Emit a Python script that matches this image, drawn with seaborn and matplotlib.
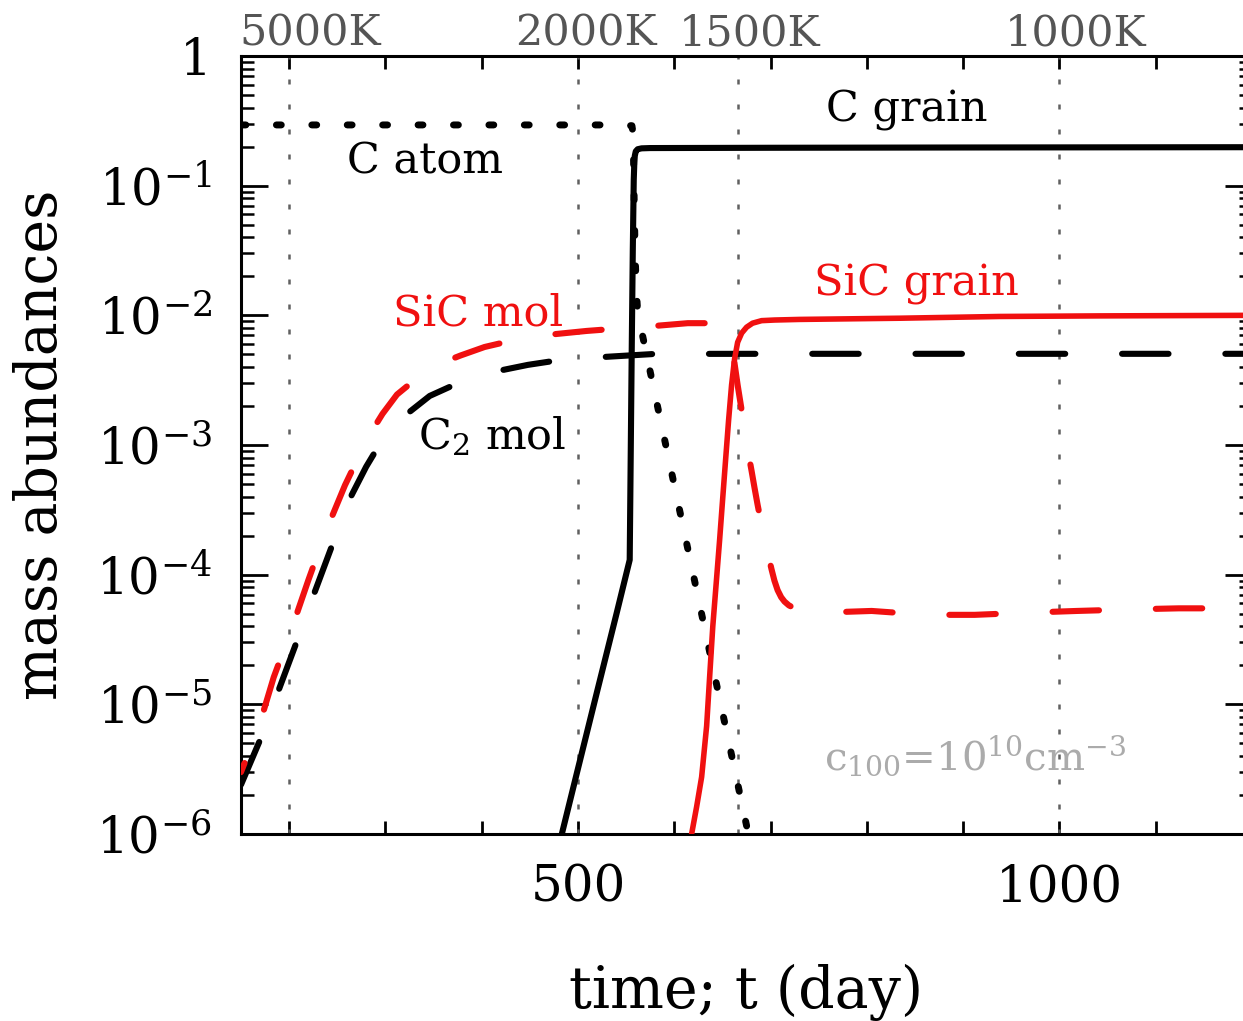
import numpy as np
import pandas as pd
import matplotlib
matplotlib.use("Agg")
import matplotlib.pyplot as plt
import matplotlib.transforms as mtransforms
from matplotlib.ticker import LogLocator, NullFormatter, NullLocator
import seaborn as sns

# ---------------------------------------------------------------------------
# Mass abundances versus time after explosion (days)
# ---------------------------------------------------------------------------
c_atom_t = [150, 300, 450, 540, 556, 557.3, 558.3, 559.3, 560.5, 562, 580, 600,
            620, 640, 660, 680, 700]
c_atom_y = [0.294, 0.294, 0.294, 0.294, 0.290, 0.25, 0.08, 0.03, 0.016, 0.0105,
            2.45e-3, 4.9e-4, 9.8e-5, 1.95e-5, 3.9e-6, 7.8e-7, 1.6e-7]

c_grain_t = [480, 483.2, 500, 520, 540, 553.7, 554.8, 555.8, 556.9, 557.9, 558.5,
             559.0, 560, 562, 566, 575, 700, 900, 1200]
c_grain_y = [8.1e-7, 1.0e-6, 3.2e-6, 1.27e-5, 5.0e-5, 1.3e-4, 9.1e-4, 5.4e-3,
             0.0316, 0.111, 0.150, 0.170, 0.184, 0.191, 0.194, 0.195, 0.196,
             0.197, 0.198]

c2_mol_t = [150, 172, 190, 209, 227, 246, 265, 280, 291, 308, 325, 346, 371,
            396, 422, 448, 475, 528, 580, 700, 1200]
c2_mol_y = [2.4e-6, 5.8e-6, 1.34e-5, 3.2e-5, 7.5e-5, 1.79e-4, 4.12e-4, 6.8e-4,
            9.3e-4, 1.35e-3, 1.80e-3, 2.39e-3, 2.90e-3, 3.41e-3, 3.79e-3,
            4.15e-3, 4.45e-3, 4.78e-3, 5.04e-3, 5.05e-3, 5.05e-3]

sic_mol_t = [150, 169, 184, 203, 220, 239, 258, 282, 297, 312, 333, 355, 378,
             403, 430, 457, 509, 536, 564, 614, 637, 644, 650, 654, 657,
             659.5, 662.5, 665.8, 669.5, 673, 676.5, 680.3, 683.5, 686.5,
             690, 693.8, 697.5, 701, 704, 707.3, 711, 714.5, 719, 724.9,
             732, 740.5, 754, 805, 862, 912, 969, 1018, 1075, 1124, 1181, 1200]
sic_mol_y = [3.0e-6, 6.9e-6, 1.62e-5, 3.9e-5, 9.1e-5, 2.24e-4, 4.9e-4, 1.15e-3,
             1.74e-3, 2.45e-3, 3.29e-3, 4.2e-3, 4.9e-3, 5.7e-3, 6.35e-3, 6.93e-3,
             7.58e-3, 7.85e-3, 8.1e-3, 8.7e-3, 8.7e-3, 8.55e-3, 8.2e-3, 7.5e-3,
             6.7e-3, 5.9e-3, 4.3e-3, 2.9e-3, 1.95e-3, 1.32e-3, 9.0e-4, 6.3e-4,
             4.6e-4, 3.47e-4, 2.55e-4, 1.86e-4, 1.42e-4, 1.10e-4, 9.0e-5, 7.6e-5,
             6.7e-5, 6.2e-5, 5.8e-5, 5.5e-5, 5.25e-5, 5.1e-5, 5.1e-5, 5.25e-5,
             4.9e-5, 4.9e-5, 5.1e-5, 5.25e-5, 5.4e-5, 5.5e-5, 5.5e-5, 5.6e-5]

sic_grain_t = [615, 618, 623.2, 628.4, 633.6, 636.7, 640, 644, 647.1, 650.2,
               653.3, 656.4, 659.5, 662.6, 665.8, 670, 675.1, 681.3, 690.7,
               704.1, 730, 834, 937.6, 1041, 1200]
sic_grain_y = [7.1e-7, 1.0e-6, 1.62e-6, 2.75e-6, 6.8e-6, 1.62e-5, 4.0e-5, 9.5e-5,
               1.86e-4, 3.8e-4, 7.7e-4, 1.55e-3, 2.9e-3, 4.6e-3, 6.2e-3, 7.3e-3,
               8.1e-3, 8.7e-3, 9.1e-3, 9.2e-3, 9.3e-3, 9.5e-3, 9.8e-3, 9.9e-3,
               1.0e-2]

# Gas temperature marks; T falls as 1/t (2000 K at 500 days)
temps_K = [5000, 2000, 1500, 1000]
temp_labels = [f"{T}K" for T in temps_K]

x_ticks = list(range(200, 1201, 100))
x_tick_labels = ["500" if v == 500 else "1000" if v == 1000 else "" for v in x_ticks]
y_ticks = [1e0, 1e-1, 1e-2, 1e-3, 1e-4, 1e-5, 1e-6]
y_tick_labels = ["1", r"$10^{-1}$", r"$10^{-2}$", r"$10^{-3}$",
                 r"$10^{-4}$", r"$10^{-5}$", r"$10^{-6}$"]


def t_of_T(T):
    return 1.0e6 / T


# ---------------------------------------------------------------------------
sns.set_style("white")
plt.rcParams["font.family"] = ["DejaVu Serif"]
plt.rcParams["mathtext.fontset"] = "dejavuserif"
for key in ("text.color", "axes.labelcolor", "xtick.color", "ytick.color"):
    plt.rcParams[key] = "black"

W, H = 1243, 1021
fig = plt.figure(figsize=(W / 100, H / 100), dpi=100)
ax = fig.add_axes([241 / W, 187 / H, 1011 / W, 778 / H])
ax.set_yscale("log")
ax.set_xlim(150, 1200)
ax.set_ylim(1e-6, 1)

RED = "#f01010"
dots = (0, (0.7, 4.4))


def draw(t, y, **kw):
    df = pd.DataFrame({"t": t, "y": y})
    sns.lineplot(data=df, x="t", y="y", ax=ax, estimator=None, sort=False,
                 legend=False, **kw)


# temperature reference lines
for T in temps_K:
    ax.axvline(t_of_T(T), color="#606060", lw=1.8, linestyle=(0, (2, 8)), zorder=1)

draw(c_atom_t, c_atom_y, color="black", lw=5.0, linestyle=dots,
     dash_capstyle="round", zorder=3)
draw(c2_mol_t, c2_mol_y, color="black", lw=4.4, linestyle=(0, (7.6, 9.3)),
     dash_capstyle="round", solid_joinstyle="round", zorder=3)
draw(sic_mol_t, sic_mol_y, color=RED, lw=4.4, linestyle=(6, (7.6, 9.3)),
     dash_capstyle="round", zorder=3)
draw(c_grain_t, c_grain_y, color="black", lw=4.4, solid_capstyle="round",
     solid_joinstyle="round", zorder=4)
draw(sic_grain_t, sic_grain_y, color=RED, lw=4.0, solid_capstyle="round",
     solid_joinstyle="round", zorder=4)

# axes styling
for s in ax.spines.values():
    s.set_linewidth(2.2)
    s.set_color("black")

ax.set_xticks(x_ticks)
ax.set_xticklabels(x_tick_labels)
ax.xaxis.set_minor_locator(NullLocator())
ax.set_yticks(y_ticks)
ax.set_yticklabels(y_tick_labels)
ax.yaxis.set_minor_locator(LogLocator(base=10, subs=np.arange(2, 10), numticks=20))
ax.yaxis.set_minor_formatter(NullFormatter())

ax.tick_params(axis="both", which="both", direction="in", top=True, right=True,
               bottom=True, left=True, color="black")
ax.tick_params(axis="x", which="major", length=9.5, width=2.0, labelsize=36, pad=21)
ax.tick_params(axis="y", which="major", length=19.5, width=2.0, labelsize=36, pad=21)
ax.tick_params(axis="y", which="minor", length=9.5, width=1.8)

ax.set_xlabel("time; t (day)", fontsize=41)
ax.xaxis.label.set_va("baseline")
ax.xaxis.set_label_coords(0.5, -0.2237)
ax.set_ylabel("mass abundances", fontsize=41)
ax.yaxis.label.set_va("baseline")
ax.yaxis.set_label_coords(-0.182, 0.5)

# temperature labels along the top
top = mtransforms.blended_transform_factory(ax.transData, ax.transAxes)
temp_label_x = [222, 508, 678, 1017]
for lab, xpos in zip(temp_labels, temp_label_x):
    ax.text(xpos, 1.0141, lab, transform=top, ha="center", va="baseline",
            fontsize=31, color="#555555", clip_on=False)

# curve labels
txt = dict(ha="center", va="baseline", fontsize=31)
ax.text(341, 0.125, "C atom", color="black", **txt)
ax.text(842, 0.31, "C grain", color="black", **txt)
ax.text(396, 8.4e-3, "SiC mol", color=RED, **txt)
ax.text(852, 0.0141, "SiC grain", color=RED, **txt)
ax.text(411, 9.2e-4, r"C$_{2}$ mol", color="black", **txt)
ax.text(912, 3.13e-6, r"c$_{100}$=10$^{10}$cm$^{-3}$", color="#ababab",
        ha="center", va="baseline", fontsize=29)

fig.savefig("out.png", dpi=100)
